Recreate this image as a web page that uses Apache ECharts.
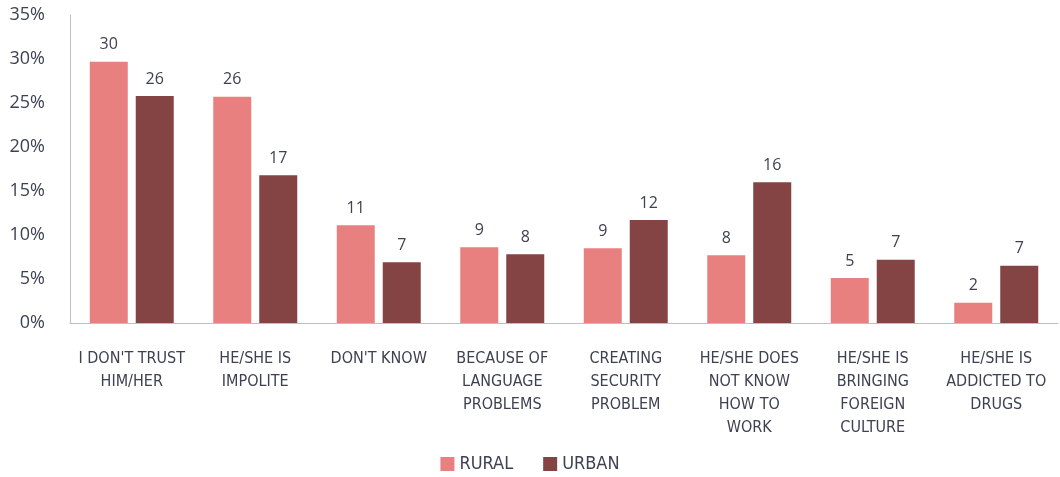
<!DOCTYPE html>
<html>
<head>
<meta charset="utf-8">
<script src="https://cdn.jsdelivr.net/npm/echarts@6/dist/echarts.min.js"></script>
<style>
  html, body { margin: 0; padding: 0; background: #fff; }
  #chart { width: 1060px; height: 477px; }
</style>
</head>
<body>
<div id="chart"></div>
<script>
// categories (line breaks as in the picture)
const categories = [
  "I DON'T TRUST\nHIM/HER",
  'HE/SHE IS\nIMPOLITE',
  "DON'T KNOW",
  'BECAUSE OF\nLANGUAGE\nPROBLEMS',
  'CREATING\nSECURITY\nPROBLEM',
  'HE/SHE DOES\nNOT KNOW\nHOW TO\nWORK',
  'HE/SHE IS\nBRINGING\nFOREIGN\nCULTURE',
  'HE/SHE IS\nADDICTED TO\nDRUGS',
];
// percent values, labels are rounded
const rural = [29.7, 25.7, 11.1, 8.6, 8.5, 7.7, 5.1, 2.3];
const urban = [25.8, 16.8, 6.9, 7.8, 11.7, 16.0, 7.2, 6.5];
const yTicks = [0, 5, 10, 15, 20, 25, 30, 35];

const textColor = '#3f4152';
const axisColor = '#bfbfbf';
const narrowFont = "'Liberation Sans Narrow', 'DejaVu Sans Condensed', 'Roboto', sans-serif";

const chart = echarts.init(document.getElementById('chart'));

const barLabel = {
  show: true,
  position: 'top',
  distance: 9,
  color: textColor,
  fontSize: 16,
  fontFamily: 'Open Sans',
  formatter: (p) => Math.round(p.value),
};

chart.setOption({
  animation: false,
  grid: { left: 70, right: 2, top: 15, bottom: 154 },
  legend: {
    bottom: -1,
    left: 'center',
    itemWidth: 14,
    itemHeight: 14,
    itemGap: 30,
    icon: 'rect',
    textStyle: { color: textColor, fontSize: 18, fontFamily: narrowFont },
    data: ['RURAL', 'URBAN'],
  },
  xAxis: {
    type: 'category',
    data: categories,
    axisLine: { lineStyle: { color: axisColor, width: 1 } },
    axisTick: { show: false },
    axisLabel: {
      interval: 0,
      margin: 24,
      color: textColor,
      fontSize: 16,
      lineHeight: 23,
      fontFamily: narrowFont,
    },
  },
  yAxis: {
    type: 'value',
    min: yTicks[0],
    max: yTicks[yTicks.length - 1],
    interval: 5,
    axisLine: { show: true, lineStyle: { color: axisColor, width: 1 } },
    axisTick: { show: false },
    splitLine: { show: false },
    axisLabel: {
      margin: 25,
      color: textColor,
      fontSize: 18,
      fontFamily: 'Open Sans',
      formatter: '{value}%',
    },
  },
  series: [
    {
      name: 'RURAL',
      type: 'bar',
      data: rural,
      barWidth: 38,
      barGap: '21%',
      itemStyle: { color: '#e98080' },
      label: barLabel,
    },
    {
      name: 'URBAN',
      type: 'bar',
      data: urban,
      barWidth: 38,
      itemStyle: { color: '#844444' },
      label: barLabel,
    },
  ],
});
</script>
</body>
</html>
